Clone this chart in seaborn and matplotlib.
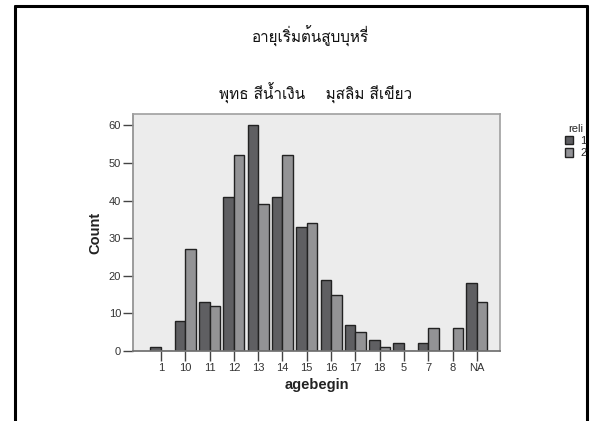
import matplotlib
matplotlib.use("Agg")
import matplotlib.pyplot as plt
from matplotlib.patches import Patch
from matplotlib.lines import Line2D
import seaborn as sns
import pandas as pd

# Age at which smoking began, counted by religion group
categories = ["1", "10", "11", "12", "13", "14", "15", "16", "17", "18", "5", "7", "8", "NA"]
reli_1 = [1, 8, 13, 41, 60, 41, 33, 19, 7, 3, 2, 2, 0, 18]
reli_2 = [0, 27, 12, 52, 39, 52, 34, 15, 5, 1, 0, 6, 6, 13]
groups = ["1", "2"]

title_text = "อายุเริ่มต้นสูบบุหรี่"
subtitle_text = "พุทธ สีน้ำเงิน    มุสลิม สีเขียว"

df = pd.DataFrame({
    "agebegin": categories * 2,
    "Count": reli_1 + reli_2,
    "reli": [groups[0]] * len(categories) + [groups[1]] * len(categories),
})

sns.set_theme(style="white")
plt.rcParams["font.family"] = ["Liberation Sans", "DejaVu Sans"]
thai_family = ["Loma", "Noto Sans Thai Looped", "DejaVu Sans"]

fig = plt.figure(figsize=(6.02, 4.21), dpi=100)
ax = fig.add_axes([133 / 602, 1 - 351 / 421, (500 - 133) / 602, (351 - 114) / 421])

dark = "#5e5e62"
light = "#929296"
sns.barplot(data=df, x="agebegin", y="Count", hue="reli", order=categories,
            hue_order=groups, palette=[dark, light], edgecolor="#222222",
            linewidth=1.0, width=0.87, ax=ax, legend=False)

ax.set_facecolor("#ececec")
ax.set_xlim(-1.15, 13.95)
ax.set_ylim(0, 63)
ax.set_yticks(range(0, 61, 10))
for side in ["top", "right"]:
    ax.spines[side].set_color("#a0a0a0")
    ax.spines[side].set_linewidth(1.2)
ax.spines["left"].set_color("#909090")
ax.spines["bottom"].set_color("#707070")
ax.tick_params(axis="both", length=7, width=1.0, color="#444444",
               labelsize=8, labelcolor="#333333", direction="out",
               bottom=True, left=True, pad=1.5)
ax.set_xlabel("agebegin", fontsize=10.5, fontweight="bold", color="#222222", labelpad=4)
ax.set_ylabel("Count", fontsize=10.5, fontweight="bold", color="#222222", labelpad=5)

fig.text(311 / 602, 1 - 36 / 421, title_text, ha="center", va="center",
         fontsize=11, family=thai_family, color="#111111")
fig.text(316 / 602, 1 - 93 / 421, subtitle_text, ha="center", va="center",
         fontsize=11, family=thai_family, color="#111111")

handles = [Patch(facecolor=dark, edgecolor="#222222", label=groups[0]),
           Patch(facecolor=light, edgecolor="#222222", label=groups[1])]
fig.legend(handles=handles, title="reli", loc="upper left",
           bbox_to_anchor=(559 / 602, 1 - 118 / 421), frameon=False,
           fontsize=8, title_fontsize=8, handlelength=0.8, handleheight=0.8,
           handletextpad=0.6, labelspacing=0.2, borderpad=0)

# Outer frame
for x0, y0, x1, y1 in [(15, 6, 587, 6), (15, 6, 15, 421), (587, 6, 587, 421)]:
    fig.add_artist(Line2D([x0 / 602, x1 / 602], [1 - y0 / 421, 1 - y1 / 421],
                          color="black", linewidth=2.2, transform=fig.transFigure))

fig.savefig("out.png", dpi=100)
